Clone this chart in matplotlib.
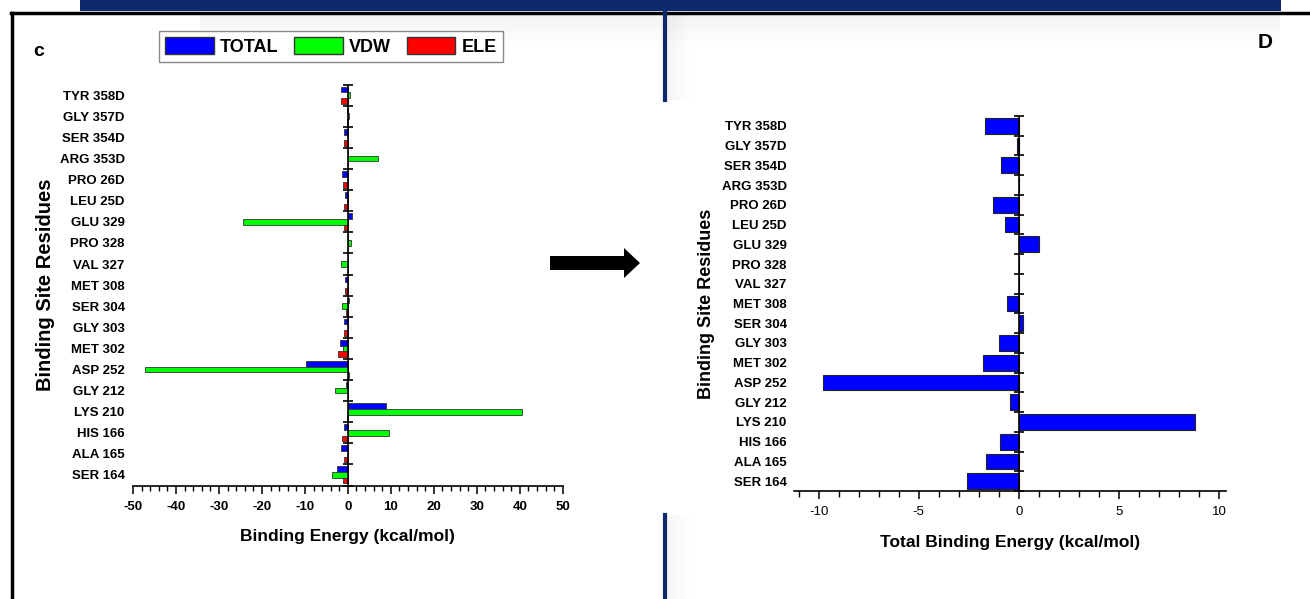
import numpy as np
import matplotlib
matplotlib.use('Agg')
import matplotlib.pyplot as plt
from matplotlib.patches import Rectangle, FancyArrow, Patch
from matplotlib.lines import Line2D
from matplotlib.ticker import MultipleLocator

plt.rcParams['font.family'] = ['Liberation Sans', 'DejaVu Sans']
plt.rcParams['axes.unicode_minus'] = False

residues = ['TYR 358D', 'GLY 357D', 'SER 354D', 'ARG 353D', 'PRO 26D', 'LEU 25D',
            'GLU 329', 'PRO 328', 'VAL 327', 'MET 308', 'SER 304', 'GLY 303',
            'MET 302', 'ASP 252', 'GLY 212', 'LYS 210', 'HIS 166', 'ALA 165', 'SER 164']
total = [-1.7, -0.1, -0.9, 0.0, -1.3, -0.7, 1.0, 0.0, 0.0, -0.6, 0.2, -1.0,
         -1.8, -9.8, -0.45, 8.8, -0.95, -1.65, -2.6]
vdw = [0.5, 0.2, 0.0, 6.9, 0.0, -0.1, -24.3, 0.8, -1.5, 0.0, -1.3, 0.0,
       -1.2, -47.1, -3.0, 40.6, 9.5, 0.1, -3.7]
ele = [-1.5, -0.2, -0.8, 0.0, -1.2, -0.8, -0.8, 0.0, 0.0, -0.6, -0.4, -1.0,
       -2.3, 0.3, 0.0, -0.3, -1.3, -1.0, -1.2]

W, H = 1310, 599
BLUE, GREEN, RED = '#0000ff', '#00ff00', '#ff0000'
NAVY = '#0c2a6c'


def fx(px):
    return px / W


def fy(py):
    return 1 - py / H


fig = plt.figure(figsize=(13.1, 5.99), dpi=100)
n = len(residues)
y = np.arange(n)

# ---- left panel (c) ----
ax1 = fig.add_axes([fx(133), fy(485.5), (562.8 - 133) / W, (485.5 - 84.7) / H])
bh = 0.27
ax1.barh(y - bh, total, height=bh, color=BLUE, edgecolor='#333333', linewidth=0.6)
ax1.barh(y, vdw, height=bh, color=GREEN, edgecolor='#333333', linewidth=0.6)
ax1.barh(y + bh, ele, height=bh, color=RED, edgecolor='#333333', linewidth=0.6)
ax1.set_xlim(-50, 50)
ax1.set_ylim(n - 0.5, -0.5)
for s in ['left', 'top', 'right']:
    ax1.spines[s].set_visible(False)
ax1.spines['bottom'].set_linewidth(1.2)
ax1.axvline(0, color='black', lw=1.2)
ax1.plot(np.zeros(n + 1), np.arange(n + 1) - 0.5, ls='none', marker='_',
         ms=7, mew=1.2, color='black', clip_on=False)
ax1.set_yticks(y)
ax1.set_yticklabels(residues, fontweight='bold', fontsize=9.5)
ax1.tick_params(axis='y', length=0, pad=6)
ax1.xaxis.set_major_locator(MultipleLocator(10))
ax1.xaxis.set_minor_locator(MultipleLocator(2))
ax1.tick_params(axis='x', which='major', direction='out', length=6, width=1.1, labelsize=9.5, pad=5)
ax1.tick_params(axis='x', which='minor', direction='out', length=3.5, width=1)
for lab in ax1.get_xticklabels():
    lab.set_fontweight('bold')
ax1.set_xlabel('Binding Energy (kcal/mol)', fontsize=12.5, fontweight='bold', labelpad=12)
ax1.set_ylabel('Binding Site Residues', fontsize=14.5, fontweight='bold', labelpad=3.5)

# ---- right panel (D) ----
ax2 = fig.add_axes([fx(793.6), fy(491), (1226 - 793.6) / W, (491 - 116) / H])
ax2.barh(y, total, height=0.8, color=BLUE, edgecolor='#222222', linewidth=0.8)
ax2.set_xlim(-11.25, 10.35)
ax2.set_ylim(n - 0.5, -0.5)
for s in ['left', 'top', 'right']:
    ax2.spines[s].set_visible(False)
ax2.spines['bottom'].set_linewidth(1.2)
ax2.axvline(0, color='black', lw=1.2)
ax2.plot(np.zeros(n + 1), np.arange(n + 1) - 0.5, ls='none', marker='_',
         ms=7, mew=1.2, color='black', clip_on=False)
ax2.set_yticks(y)
ax2.set_yticklabels(residues, fontweight='bold', fontsize=9.5)
ax2.tick_params(axis='y', length=0, pad=5)
ax2.xaxis.set_major_locator(MultipleLocator(5))
ax2.xaxis.set_minor_locator(MultipleLocator(1))
ax2.tick_params(axis='x', which='major', direction='out', length=6, width=1.1, labelsize=9.5, pad=5)
ax2.tick_params(axis='x', which='minor', direction='out', length=4, width=1)
ax2.set_xlabel('Total Binding Energy (kcal/mol)', fontsize=12.5, fontweight='bold', labelpad=12)
ax2.set_ylabel('Binding Site Residues', fontsize=13, fontweight='bold', labelpad=5)

# legend
handles = [Patch(facecolor=BLUE, edgecolor='#333333', label='TOTAL'),
           Patch(facecolor=GREEN, edgecolor='#333333', label='VDW'),
           Patch(facecolor=RED, edgecolor='#333333', label='ELE')]
fig.legend(handles=handles, ncol=3, loc='center', bbox_to_anchor=(fx(331), fy(46.5)),
           frameon=True, fancybox=False, edgecolor='#888888', framealpha=1,
           prop={'weight': 'bold', 'size': 13}, handlelength=2.7, handleheight=1.0,
           columnspacing=0.85, handletextpad=0.35, borderpad=0.35, borderaxespad=0)

fig.text(fx(39), fy(52), 'c', fontsize=14, fontweight='bold', ha='center', va='center')
fig.text(fx(1265), fy(43), 'D', fontsize=15, fontweight='bold', ha='center', va='center')

# slide decorations
for k in range(10):
    fig.add_artist(Rectangle((fx(200), fy(14 + 3 * (k + 1))), fx(1280) - fx(200), 3 / H,
                             color='black', alpha=0.05 * (1 - k / 10), lw=0))
fig.add_artist(Rectangle((fx(80), fy(11)), fx(1281) - fx(80), 11 / H, color=NAVY, lw=0))
fig.add_artist(Line2D([fx(11), 1], [fy(13), fy(13)], color='black', lw=2.5))
fig.add_artist(Line2D([fx(12), fx(12)], [fy(13), 0], color='black', lw=2.5))
for y0, y1 in [(13, 100), (515, 599)]:
    for k in range(8):
        fig.add_artist(Rectangle((fx(667 + 3 * k), fy(y1)), 3 / W, (y1 - y0) / H,
                                 color='black', alpha=0.035 * (1 - k / 8), lw=0))
    fig.add_artist(Line2D([fx(665), fx(665)], [fy(y0), fy(y1)], color=NAVY, lw=3))

fig.add_artist(FancyArrow(5.50, (H - 263) / 100, 0.74, 0, width=0.14, head_width=0.30,
                          head_length=0.16, transform=fig.dpi_scale_trans,
                          color='black', lw=0))

fig.savefig('out.png', dpi=100)
